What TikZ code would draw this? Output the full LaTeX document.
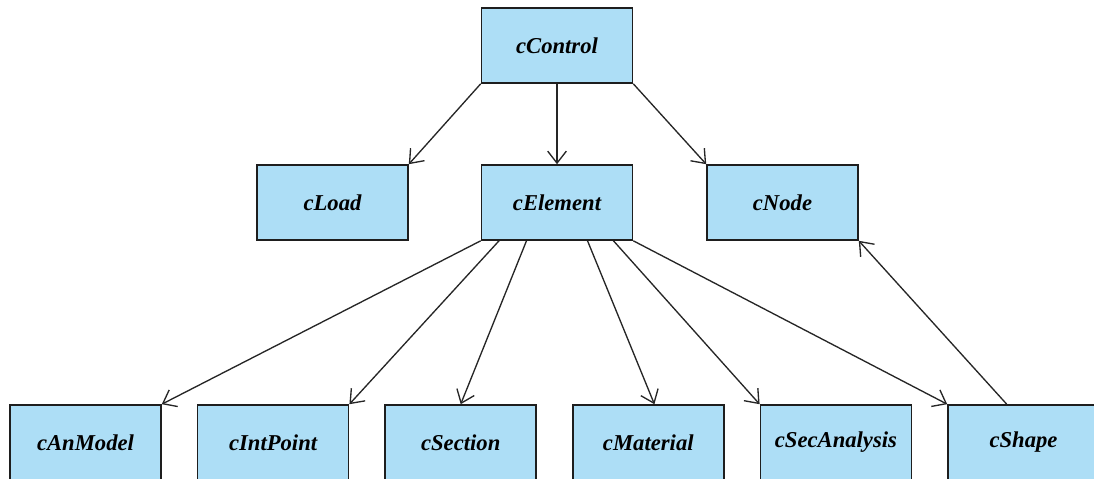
\documentclass[tikz,border=0pt]{standalone}
\usepackage{fontspec}
\setmainfont{Liberation Serif}
\usetikzlibrary{calc,arrows.meta}
\definecolor{boxblue}{RGB}{173,222,246}
\definecolor{boxline}{RGB}{30,30,30}
\def\bw{151}
\def\bh{75}
\def\gap{187.6}

\tikzset{
  cls/.style={draw=boxline,line width=1.2pt,fill=boxblue,minimum width=\bw*0.75pt,
    minimum height=\bh*0.75pt,inner sep=0pt,font=\fontsize{17}{20}\selectfont\bfseries\itshape},
  dep/.style={draw=black!85,line width=1pt,-{Straight Barb[length=9pt,width=14pt]}}
}

\begin{document}
\begin{tikzpicture}[x=0.75pt,y=-0.75pt]

\useasboundingbox (0,0) rectangle (1094,478);
\clip (0,0) rectangle (1094,478);

%top two rows
\node[cls] (cControl) at (557,45.5) {cControl};
\node[cls] (cLoad) at (332.5,202.5) {cLoad};
\node[cls] (cElement) at (557,202.5) {cElement};
\node[cls] (cNode) at (782.5,202.5) {cNode};

%bottom row, runs off the page
\foreach \n [count=\i from 0] in {cAnModel,cIntPoint,cSection,cMaterial,cSecAnalysis,cShape}{
   \node[cls] (\n) at (\i*\gap+85.5,442.5) {\n};
}

\draw[dep] (cControl.south west) -- (cLoad.north east);
\draw[dep] (cControl.south) -- (cElement.north);
\draw[dep] (cControl.south east) -- (cNode.north west);

\draw[dep] (cElement.south west) -- (cAnModel.north east);
\draw[dep] ($(cElement.south west)!0.12!(cElement.south east)$) -- (cIntPoint.north east);
\draw[dep] ($(cElement.south west)!0.30!(cElement.south east)$) -- (cSection.north);
\draw[dep] ($(cElement.south west)!0.70!(cElement.south east)$) -- ($(cMaterial.north west)!0.54!(cMaterial.north east)$);
\draw[dep] ($(cElement.south west)!0.87!(cElement.south east)$) -- (cSecAnalysis.north west);
\draw[dep] (cElement.south east) -- (cShape.north west);

\draw[dep] ($(cShape.north west)!0.39!(cShape.north east)$) -- (cNode.south east);

\end{tikzpicture}
\end{document}
